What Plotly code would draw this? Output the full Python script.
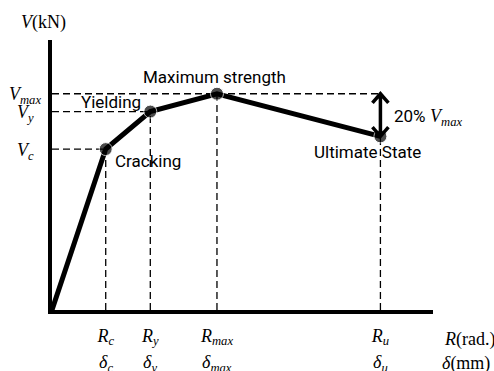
import plotly.graph_objects as go

# Idealised shear force - drift envelope with characteristic states
drift = [0.0, 14.1, 25.8, 43.3, 86.2]          # origin, cracking, yielding, peak, ultimate
shear = [0.0, 59.6, 73.5, 80.1, 64.3]
state_names = ["", "Cracking", "Yielding", "Maximum strength", "Ultimate State"]

r_labels = ["<i>R<sub>c</sub></i>", "<i>R<sub>y</sub></i>",
            "<i>R<sub>max</sub></i>", "<i>R<sub>u</sub></i>"]
d_labels = ["<i>δ<sub>c</sub></i>", "<i>δ<sub>y</sub></i>",
            "<i>δ<sub>max</sub></i>", "<i>δ<sub>u</sub></i>"]
v_labels = ["<i>V<sub>c</sub></i>", "<i>V<sub>y</sub></i>", "<i>V<sub>max</sub></i>"]

SERIF = "Liberation Serif, Times New Roman, serif"
SANS = "Roboto, Arial, sans-serif"
SERIF_SIZE = 18
SANS_SIZE = 17

fig = go.Figure()

# Dashed guide lines from each state to both axes
dash_style = dict(color="black", width=1.3, dash="7px,4px")
for i in range(1, 5):
    fig.add_shape(type="line", x0=drift[i], x1=drift[i], y0=0, y1=shear[i],
                  xref="x", yref="y", line=dash_style, layer="below")
for i in range(1, 4):
    x_end = drift[4] if i == 3 else drift[i]
    fig.add_shape(type="line", x0=0, x1=x_end, y0=shear[i], y1=shear[i],
                  xref="x", yref="y", line=dash_style, layer="below")

# Envelope curve
fig.add_trace(go.Scatter(
    x=drift, y=shear, mode="lines+markers",
    line=dict(color="black", width=5),
    marker=dict(color="black", size=[0, 13, 13, 13, 13]),
    cliponaxis=False, hoverinfo="skip", showlegend=False,
))

# Double-headed arrow marking the 20% strength drop
xa, ytop, ybot = drift[4], shear[3], shear[4]
hw, hh = 2.1, 3.4
path = (f"M {xa} {ytop} L {xa} {ybot} "
        f"M {xa-hw} {ytop-hh} L {xa} {ytop} L {xa+hw} {ytop-hh} "
        f"M {xa-hw} {ybot+hh} L {xa} {ybot} L {xa+hw} {ybot+hh}")
fig.add_shape(type="path", path=path, xref="x", yref="y",
              line=dict(color="black", width=3.5))

ann = []
# State names next to the points
offsets = {1: (42, -12), 2: (-39, 10), 3: (-2, 17), 4: (-13, -16)}
for i, (dx, dy) in offsets.items():
    ann.append(dict(x=drift[i], y=shear[i], xref="x", yref="y", text=state_names[i],
                    showarrow=False, xanchor="center", yanchor="middle",
                    xshift=dx, yshift=dy,
                    font=dict(family=SANS, size=SANS_SIZE, color="black")))
ann.append(dict(x=drift[4], y=(shear[3] + shear[4]) / 2, xref="x", yref="y",
                text=f"<span style='font-family:{SANS}; font-size:{SANS_SIZE}px'>20%</span> <i>V<sub>max</sub></i>",
                showarrow=False, xanchor="left", yanchor="middle", xshift=12, yshift=-2,
                font=dict(family=SERIF, size=SERIF_SIZE, color="black")))

# Vertical axis state labels
for v, lab in zip(shear[1:4], v_labels):
    ann.append(dict(x=0, y=v, xref="paper", yref="y", text=lab, showarrow=False,
                    xanchor="center", yanchor="middle", xshift=-27, yshift=-2,
                    font=dict(family=SERIF, size=SERIF_SIZE, color="black")))

# Second row of horizontal axis labels (displacement)
for x, lab in zip(drift[1:], d_labels):
    ann.append(dict(x=x, y=0, xref="x", yref="paper", text=lab, showarrow=False,
                    xanchor="center", yanchor="middle", yshift=-53,
                    font=dict(family=SERIF, size=SERIF_SIZE, color="black")))

# Axis titles
ann.append(dict(x=0, y=1, xref="paper", yref="paper", text="<i>V</i>(kN)",
                showarrow=False, xanchor="center", yanchor="middle", xshift=-9, yshift=18,
                font=dict(family=SERIF, size=SERIF_SIZE, color="black")))
ann.append(dict(x=1, y=0, xref="paper", yref="paper", text="<i>R</i>(rad.)",
                showarrow=False, xanchor="left", yanchor="middle", xshift=9, yshift=-29,
                font=dict(family=SERIF, size=SERIF_SIZE, color="black")))
ann.append(dict(x=1, y=0, xref="paper", yref="paper", text="<i>δ</i>(mm)",
                showarrow=False, xanchor="left", yanchor="middle", xshift=7, yshift=-53,
                font=dict(family=SERIF, size=SERIF_SIZE, color="black")))

fig.update_layout(
    width=494, height=371,
    margin=dict(l=52, r=61, t=40, b=61),
    paper_bgcolor="white", plot_bgcolor="white",
    annotations=ann,
    xaxis=dict(range=[0, 100], showgrid=False, zeroline=False,
               showline=True, linecolor="black", linewidth=4,
               tickvals=drift[1:], ticktext=r_labels,
               ticks="outside", ticklen=6, tickcolor="rgba(0,0,0,0)",
               tickfont=dict(family=SERIF, size=SERIF_SIZE, color="black")),
    yaxis=dict(range=[0, 100], showgrid=False, zeroline=False,
               showline=True, linecolor="black", linewidth=4,
               showticklabels=False, ticks=""),
)

fig.write_html("out.html")
